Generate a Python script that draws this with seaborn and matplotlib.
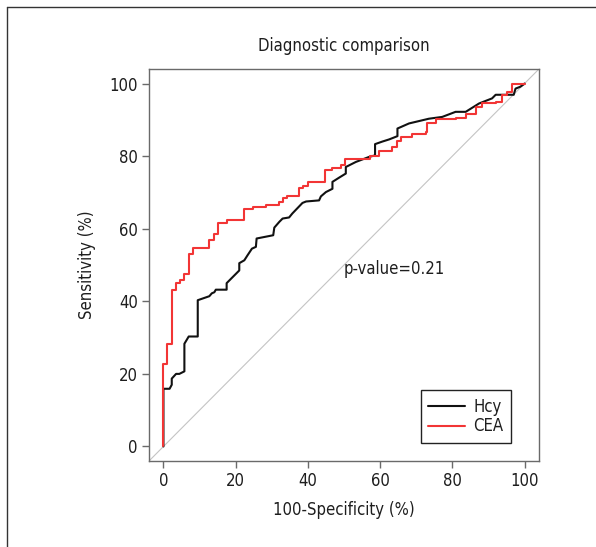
import matplotlib
matplotlib.use("Agg")
import matplotlib.pyplot as plt
import seaborn as sns
import pandas as pd
from matplotlib.lines import Line2D

# ---- data ----
series_names = ["Hcy", "CEA"]
hcy_fpr = [0, 0, 1.7, 2.3, 2.3, 3.5, 4.4, 5.8, 5.8, 7.0, 9.5, 9.5, 12.7, 13.4, 14.1, 14.5, 17.5,
           17.5, 18.7, 20.1, 21.0, 21.0, 22.4, 23.3, 24.5, 25.6, 25.8, 30.4, 30.7, 32.1, 33.0,
           34.8, 35.7, 38.5, 39.5, 43.1, 43.6, 45.0, 46.8, 46.8, 48.7, 50.5, 50.5, 53.3, 57.0,
           58.6, 58.6, 60.6, 62.5, 64.8, 64.8, 68.0, 73.5, 77.2, 80.9, 83.7, 87.4, 91.0, 92.0,
           97.0, 97.5, 98.8, 99.8, 100]
hcy_tpr = [0, 15.9, 15.9, 17.0, 18.7, 20.0, 20.0, 20.7, 28.3, 30.3, 30.3, 40.3, 41.4, 42.2, 42.5,
           43.2, 43.2, 45.0, 46.2, 47.6, 48.5, 50.5, 51.3, 52.7, 54.5, 55.0, 57.3, 58.2, 60.3,
           61.9, 62.8, 63.1, 64.2, 67.1, 67.5, 67.8, 68.9, 70.1, 71.0, 72.9, 74.1, 75.2, 77.0,
           78.4, 79.8, 80.2, 83.3, 84.0, 84.6, 85.5, 87.6, 89.0, 90.3, 90.8, 92.2, 92.2, 94.5,
           95.9, 96.9, 96.9, 98.6, 99.1, 99.8, 100]
cea_fpr = [0, 0, 1.1, 2.3, 3.5, 4.6, 5.7, 7.0, 8.1, 12.7, 14.0, 15.1, 17.5, 22.3, 24.7, 28.4,
           31.9, 33.0, 34.1, 37.6, 38.7, 40.0, 44.6, 46.8, 49.2, 50.4, 57.2, 59.7, 63.2, 64.8,
           65.7, 68.9, 72.6, 73.1, 75.4, 80.9, 83.7, 86.5, 88.3, 92.0, 93.8, 95.2, 96.6, 100]
cea_tpr = [0, 22.6, 28.3, 43.2, 45.0, 46.0, 47.4, 52.9, 54.8, 56.8, 58.6, 61.6, 62.5, 65.3, 66.0,
           66.4, 67.4, 68.5, 69.1, 71.1, 71.7, 72.9, 76.2, 76.7, 77.6, 79.1, 80.0, 81.4, 82.4,
           84.2, 85.3, 86.0, 86.7, 89.0, 90.3, 90.6, 91.7, 93.5, 94.5, 94.9, 96.8, 97.7, 100, 100]
ticks = [0, 20, 40, 60, 80, 100]
title = "Diagnostic comparison"
xlabel = "100-Specificity (%)"
ylabel = "Sensitivity (%)"
pvalue_text = "p-value=0.21"
colors = {"Hcy": "#111111", "CEA": "#f23535"}

sns.set_theme(style="white")
plt.rcParams["font.family"] = ["DejaVu Sans"]
plt.rcParams["font.stretch"] = "condensed"

FS = 12
LFS = 12
TXT = "#1e1e1e"

fig = plt.figure(figsize=(5.96, 5.47), dpi=100)
ax = fig.add_axes([149 / 596, 1 - 461 / 547, 390 / 596, 392 / 547])

# reference diagonal
ax.axline((0, 0), (100, 100), color="#c4c4c4", lw=0.8, zorder=1)

df_h = pd.DataFrame({"fpr": hcy_fpr, "tpr": hcy_tpr, "marker": "Hcy"})
df_c = pd.DataFrame({"fpr": cea_fpr, "tpr": cea_tpr, "marker": "CEA"})

sns.lineplot(data=df_h, x="fpr", y="tpr", color=colors["Hcy"], sort=False,
             estimator=None, lw=1.5, ax=ax, label="Hcy", zorder=2)
sns.lineplot(data=df_c, x="fpr", y="tpr", color=colors["CEA"], sort=False,
             estimator=None, lw=1.5, ax=ax, label="CEA", drawstyle="steps-post", zorder=3)

ax.set_xlim(-4, 104)
ax.set_ylim(-4, 104)
ax.set_xticks(ticks)
ax.set_yticks(ticks)
ax.set_xticklabels([str(t) for t in ticks])
ax.set_yticklabels([str(t) for t in ticks])

for sp in ax.spines.values():
    sp.set_visible(True)
    sp.set_color("#6a6a6a")
    sp.set_linewidth(1.0)
ax.tick_params(axis="both", which="both", direction="out", length=5, width=1.0,
               color="#6a6a6a", labelsize=FS, labelcolor=TXT, pad=3,
               bottom=True, left=True)

ax.set_xlabel(xlabel, fontsize=LFS, color=TXT, labelpad=8)
ax.set_ylabel(ylabel, fontsize=LFS, color=TXT, labelpad=10)
ax.set_title(title, fontsize=LFS, color=TXT, pad=13)

ax.text(50, 49, pvalue_text, fontsize=LFS, color=TXT, ha="left", va="center")

leg = ax.legend(loc="lower right", bbox_to_anchor=(0.928, 0.046), borderaxespad=0,
                frameon=True, fancybox=False, edgecolor="#222222", framealpha=1,
                fontsize=FS, handlelength=2.2, handletextpad=0.5, borderpad=0.45,
                labelspacing=0.1)
leg.get_frame().set_linewidth(1.0)
for t in leg.get_texts():
    t.set_color(TXT)

# outer frame lines of the original panel
fig.add_artist(Line2D([7.5 / 596, 7.5 / 596], [0, 1 - 7 / 547], transform=fig.transFigure,
                      color="#333333", lw=1.0))
fig.add_artist(Line2D([7.5 / 596, 1], [1 - 7 / 547, 1 - 7 / 547], transform=fig.transFigure,
                      color="#333333", lw=1.0))

fig.savefig("out.png", dpi=100, facecolor="white")
